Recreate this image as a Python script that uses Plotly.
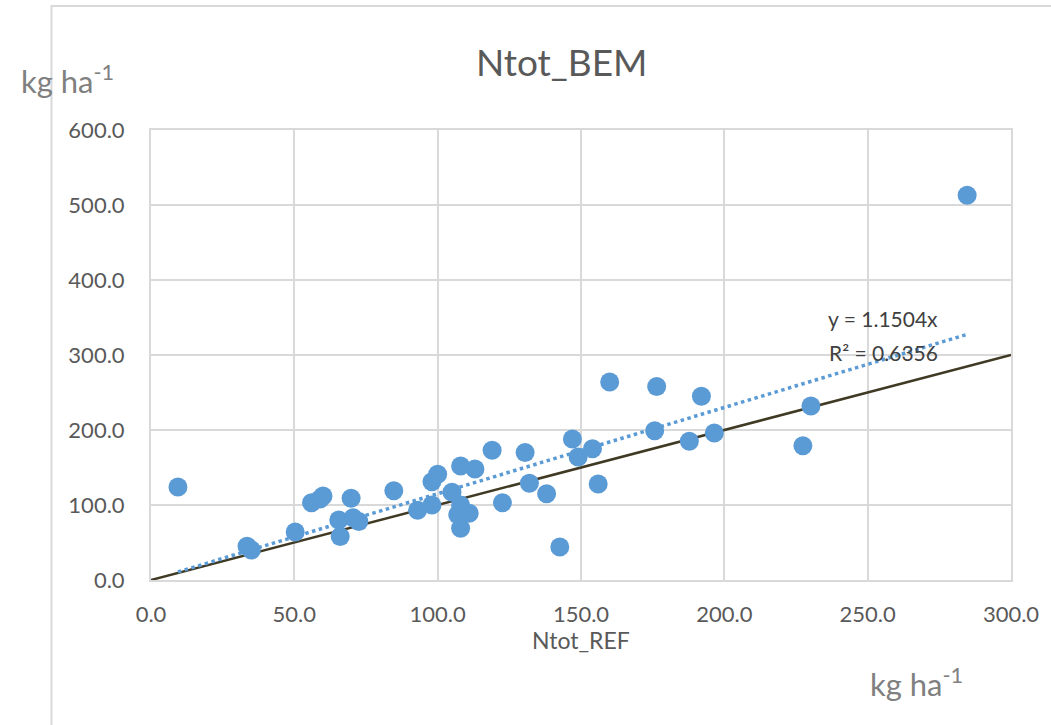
import plotly.graph_objects as go

# Data
ntot_ref = [9.4, 33.5, 35, 50.3, 56, 59, 60, 65.5, 66, 69.8, 70.5, 72.5, 84.7, 93, 98, 98, 100,
            105, 107, 108, 108, 108, 111, 113, 119, 122.6, 130.5, 132, 138, 142.6, 147, 149,
            154, 156, 160, 175.7, 176.4, 187.8, 192, 196.5, 227.4, 230.2, 284.7]
ntot_bem = [124, 45, 40, 64, 103, 108, 112, 80, 58, 109, 83, 78, 119, 93, 131, 100, 141,
            117, 87, 152, 100, 69, 89, 148, 173, 103, 170, 129, 115, 44, 188, 164,
            175, 128, 264, 199, 258, 185, 245, 196, 179, 232, 513]
slope = 1.1504
r2 = 0.6356
one_to_one = [0, 300]
x_ticks = [0, 50, 100, 150, 200, 250, 300]
y_ticks = [0, 100, 200, 300, 400, 500, 600]

FONT = "Lato"
BLUE = "#5B9BD5"
GRID = "#D9D9D9"

trend_x = [min(ntot_ref), max(ntot_ref)]
trend_y = [slope * v for v in trend_x]

fig = go.Figure()
fig.add_trace(go.Scatter(x=one_to_one, y=one_to_one, mode="lines",
                         line=dict(color="#403A24", width=2.5), hoverinfo="skip"))
fig.add_trace(go.Scatter(x=trend_x, y=trend_y, mode="lines",
                         line=dict(color=BLUE, width=3.5, dash="dot"), hoverinfo="skip"))
fig.add_trace(go.Scatter(x=ntot_ref, y=ntot_bem, mode="markers",
                         marker=dict(color=BLUE, size=19, line=dict(width=0))))

fig.update_layout(
    width=1051, height=725,
    margin=dict(l=151, r=36, t=130, b=145),
    paper_bgcolor="white", plot_bgcolor="white",
    showlegend=False,
    font=dict(family=FONT, color="#595959", size=22),
)
fig.update_xaxes(range=[0, 300], tickvals=x_ticks, ticktext=[f"{v:.1f}" for v in x_ticks],
                 showgrid=True, gridcolor=GRID, gridwidth=2, zeroline=False,
                 showline=True, linecolor=GRID, linewidth=2, mirror=True,
                 ticks="", ticklabelstandoff=14,
                 tickfont=dict(family=FONT, size=22, color="#595959"))
fig.update_yaxes(range=[0, 600], tickvals=y_ticks, ticktext=[f"{v:.1f}" for v in y_ticks],
                 showgrid=True, gridcolor=GRID, gridwidth=2, zeroline=False,
                 showline=True, linecolor=GRID, linewidth=2, mirror=True,
                 ticks="", ticklabelstandoff=20,
                 tickfont=dict(family=FONT, size=22, color="#595959"))

# outer chart frame (cropped in the reference)
W, L, T, B = 864.0, 151.0, 130.0, 580.0
def px(x):
    return (x - L) / W
def py(y):
    return (B - y) / 450.0
fig.add_shape(type="rect", xref="paper", yref="paper",
              x0=px(51), x1=px(1070), y0=py(740), y1=py(6),
              line=dict(color=GRID, width=2), layer="below")

anns = [
    dict(text="Ntot_BEM", x=px(563), y=py(62), size=37, color="#595959"),
    dict(text="Ntot_REF", x=px(583), y=py(640), size=23, color="#595959"),
    dict(text="kg ha<sup>-1</sup>", x=px(67), y=py(80), size=31, color="#808080"),
    dict(text="kg ha<sup>-1</sup>", x=px(920), y=py(682), size=31, color="#808080"),
    dict(text=f"y = {slope}x", x=px(886), y=py(318), size=21, color="#404040"),
    dict(text=f"R² = {r2}", x=px(887), y=py(352), size=21, color="#404040"),
]
for a in anns:
    fig.add_annotation(text=a["text"], x=a["x"], y=a["y"], xref="paper", yref="paper",
                       showarrow=False, xanchor="center", yanchor="middle",
                       font=dict(family=FONT, size=a["size"], color=a["color"]))

fig.write_html("out.html")
